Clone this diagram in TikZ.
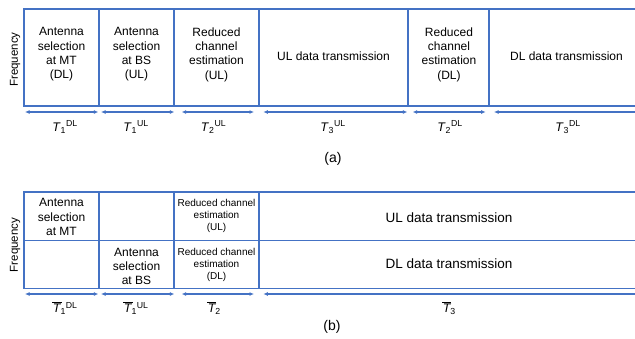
\documentclass[tikz,border=0pt]{standalone}
\usepackage{fontspec}
\setmainfont{Liberation Sans}
\usepackage{tikz}
\usetikzlibrary{arrows.meta}
\definecolor{lineblue}{HTML}{4472C4}

\begin{document}
\begin{tikzpicture}[x=1pt,y=-1pt]
    \tikzset{
        frame/.style={draw=lineblue, line width=1.8pt},
        span/.style={draw=lineblue, line width=1.1pt, {Latex[length=4.5pt,width=4pt]}-{Latex[length=4.5pt,width=4pt]}},
        cell/.style={align=center, inner sep=0pt, font=\fontsize{12}{14.3}\selectfont},
        smallcell/.style={align=center, inner sep=0pt, font=\fontsize{10}{12}\selectfont},
        bigcell/.style={inner sep=0pt, font=\fontsize{13.5}{16}\selectfont},
        period/.style={inner sep=0pt, font=\fontsize{12.5}{15}\selectfont},
        axis/.style={rotate=90, inner sep=0pt, font=\fontsize{11.5}{14}\selectfont},
        caption/.style={inner sep=0pt, font=\fontsize{14}{16}\selectfont}
    }
    \useasboundingbox (0,0) rectangle (635,338);
    % (a)
    \draw [frame] (642,9) -- (24,9) -- (24,106) -- (642,106);
    \foreach \x in {99,174,259,408,489}
        \draw [frame] (\x,9) -- (\x,106);
    \node [axis] (freqa) at (15,59.5) {Frequency};
    \node [cell] (selmt) at (61.5,54.5) {Antenna\\selection\\at MT\\(DL)};
    \node [cell] (selbs) at (136.5,54.5) {Antenna\\selection\\at BS\\(UL)};
    \node [cell] (estul) at (216.5,54.5) {Reduced\\channel\\estimation\\(UL)};
    \node [cell] (dataul) at (333.5,56.5) {UL data transmission};
    \node [cell] (estdl) at (449,54.5) {Reduced\\channel\\estimation\\(DL)};
    \node [cell] (datadl) at (566.5,56.5) {DL data transmission};
    \coordinate (a0) at (25,112);
    \coordinate (a1l) at (98.3,112);
    \coordinate (a1r) at (101,112);
    \coordinate (a2l) at (174.3,112);
    \coordinate (a2r) at (181.7,112);
    \coordinate (a3l) at (254,112);
    \coordinate (a3r) at (263.3,112);
    \coordinate (a4l) at (407.3,112);
    \coordinate (a4r) at (412.7,112);
    \coordinate (a5l) at (485.7,112);
    \coordinate (a5r) at (494,112);
    \coordinate (a6) at (642,112);
    \draw [span] (a0) -- (a1l);
    \draw [span] (a1r) -- (a2l);
    \draw [span] (a2r) -- (a3l);
    \draw [span] (a3r) -- (a4l);
    \draw [span] (a4r) -- (a5l);
    \draw [span] (a5r) -- (a6);
    \node [period] (t1dl) at (65,127) {\textit{T}\textsubscript{1}\textsuperscript{DL}};
    \node [period] (t1ul) at (136,127) {\textit{T}\textsubscript{1}\textsuperscript{UL}};
    \node [period] (t2ul) at (213.5,127) {\textit{T}\textsubscript{2}\textsuperscript{UL}};
    \node [period] (t3ul) at (333,127) {\textit{T}\textsubscript{3}\textsuperscript{UL}};
    \node [period] (t2dl) at (450,127) {\textit{T}\textsubscript{2}\textsuperscript{DL}};
    \node [period] (t3dl) at (568,127) {\textit{T}\textsubscript{3}\textsuperscript{DL}};
    \node [caption] (capa) at (333,159) {(a)};
    % (b)
    \draw [frame] (642,192) -- (24,192) -- (24,288.5) -- (642,288.5);
    \draw [frame] (24,240.5) -- (642,240.5);
    \foreach \x in {99,174,259}
        \draw [frame] (\x,192) -- (\x,288.5);
    \node [axis] (freqb) at (15,245) {Frequency};
    \node [cell] (bselmt) at (61.5,217) {Antenna\\selection\\at MT};
    \node [cell] (bselbs) at (136.5,266.5) {Antenna\\selection\\at BS};
    \node [smallcell] (bestul) at (216.5,216) {Reduced channel\\estimation\\(UL)};
    \node [smallcell] (bestdl) at (216.5,264.5) {Reduced channel\\estimation\\(DL)};
    \node [bigcell] (bdataul) at (449,217.5) {UL data transmission};
    \node [bigcell] (bdatadl) at (449,263.5) {DL data transmission};
    \coordinate (b0) at (25,294);
    \coordinate (b1l) at (98.3,294);
    \coordinate (b1r) at (101,294);
    \coordinate (b2l) at (174.3,294);
    \coordinate (b2r) at (181.7,294);
    \coordinate (b3l) at (254,294);
    \coordinate (b3r) at (263.3,294);
    \coordinate (b4) at (642,294);
    \draw [span] (b0) -- (b1l);
    \draw [span] (b1r) -- (b2l);
    \draw [span] (b2r) -- (b3l);
    \draw [span] (b3r) -- (b4);
    \node [period] (bt1dl) at (65,308) {$\overline{\mbox{\itshape\kern0.5pt T\kern1pt}}$\kern-1pt\textsubscript{1}\textsuperscript{DL}};
    \node [period] (bt1ul) at (136,308) {$\overline{\mbox{\itshape\kern0.5pt T\kern1pt}}$\kern-1pt\textsubscript{1}\textsuperscript{UL}};
    \node [period] (bt2) at (214,308) {$\overline{\mbox{\itshape\kern0.5pt T\kern1pt}}$\kern-1pt\textsubscript{2}};
    \node [period] (bt3) at (449,308) {$\overline{\mbox{\itshape\kern0.5pt T\kern1pt}}$\kern-1pt\textsubscript{3}};
    \node [caption] (capb) at (332,327) {(b)};
\end{tikzpicture}
\end{document}
